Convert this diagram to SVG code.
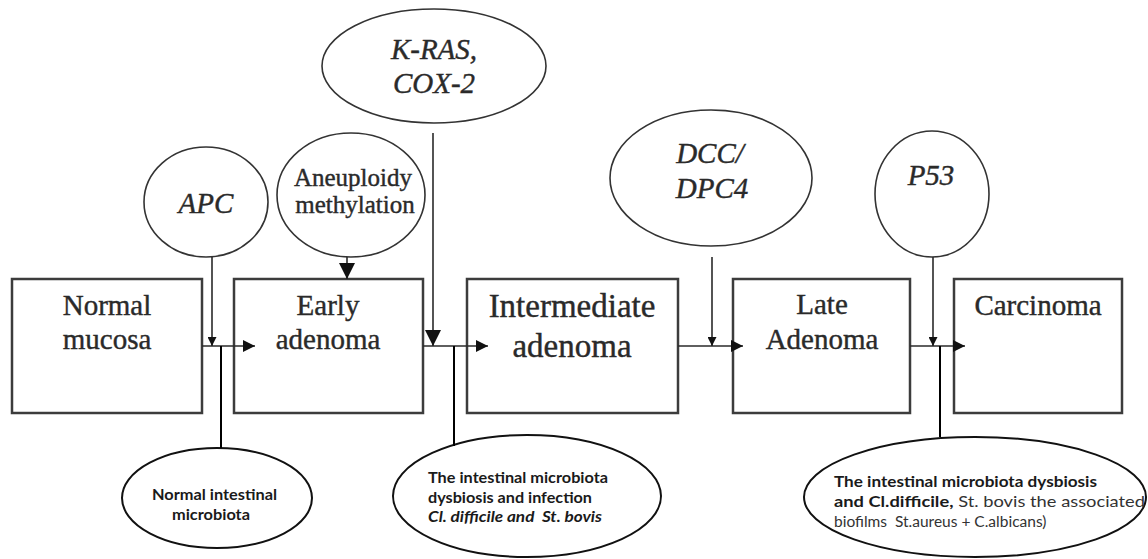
<svg xmlns="http://www.w3.org/2000/svg" width="1148" height="559" viewBox="0 0 1148 559">
<style>
.box{fill:#fff;stroke:#3c3c3c;stroke-width:2.5}
.oval{fill:#fff;stroke:#333;stroke-width:1.6}
.bov{fill:#fff;stroke:#111;stroke-width:2}
.bt{font-family:"Liberation Serif",serif;font-size:29px;fill:#2a2a2a;stroke:#2a2a2a;stroke-width:0.4;text-anchor:middle}
.gt{font-family:"Liberation Serif",serif;font-size:29px;font-style:italic;fill:#2a2a2a;stroke:#2a2a2a;stroke-width:0.4;text-anchor:middle}
.mt{font-family:Lato,"Liberation Sans",sans-serif;font-size:16px;font-weight:bold;fill:#1a1a1a}
.rg{font-weight:normal;fill:#333}
.ln{stroke:#2a2a2a;stroke-width:1.6;fill:none}
.bl{stroke:#000;stroke-width:2;fill:none}
</style>
<defs>
<marker id="ah" markerUnits="userSpaceOnUse" markerWidth="12" markerHeight="12" viewBox="0 0 10 10" refX="10" refY="5" orient="auto"><path d="M0,0 L10,5 L0,10 z" fill="#111"/></marker>
<marker id="ahs" markerUnits="userSpaceOnUse" markerWidth="9" markerHeight="9" viewBox="0 0 10 10" refX="10" refY="5" orient="auto"><path d="M0,0 L10,5 L0,10 z" fill="#111"/></marker>
<marker id="ahl" markerUnits="userSpaceOnUse" markerWidth="16" markerHeight="16" viewBox="0 0 10 10" refX="10" refY="5" orient="auto"><path d="M0,0 L10,5 L0,10 z" fill="#111"/></marker>
</defs>
<rect width="1148" height="559" fill="#fff"/>
<g id="normal-mucosa"><rect class="box" x="12" y="279" width="190" height="134"/><text class="bt" x="107" y="315">Normal</text><text class="bt" x="107" y="349">mucosa</text></g>
<g id="early-adenoma"><rect class="box" x="234" y="279" width="189" height="134"/><text class="bt" x="328" y="315">Early</text><text class="bt" x="328" y="349">adenoma</text></g>
<g id="intermediate-adenoma"><rect class="box" x="467" y="279" width="211" height="134"/><text class="bt" x="572" y="317" style="font-size:33px">Intermediate</text><text class="bt" x="572" y="357" style="font-size:33px">adenoma</text></g>
<g id="late-adenoma"><rect class="box" x="733" y="279" width="177" height="134"/><text class="bt" x="822" y="314">Late</text><text class="bt" x="822" y="349">Adenoma</text></g>
<g id="carcinoma"><rect class="box" x="954" y="279" width="168" height="134"/><text class="bt" x="1038" y="315">Carcinoma</text></g>
<g id="apc"><ellipse class="oval" cx="206" cy="202" rx="62" ry="55"/><text class="gt" x="206" y="213">APC</text></g>
<g id="aneuploidy"><ellipse class="oval" cx="351" cy="195" rx="74" ry="62"/><text class="bt" x="353" y="186" style="font-size:25px">Aneuploidy</text><text class="bt" x="355" y="213" style="font-size:25px">methylation</text></g>
<g id="kras"><ellipse class="oval" cx="434" cy="66" rx="112" ry="57"/><text class="gt" x="434" y="59">K-RAS,</text><text class="gt" x="434" y="93">COX-2</text></g>
<g id="dcc"><ellipse class="oval" cx="711" cy="178" rx="101" ry="68"/><text class="gt" x="710" y="163">DCC/</text><text class="gt" x="712" y="198">DPC4</text></g>
<g id="p53"><ellipse class="oval" cx="932" cy="194" rx="57" ry="63"/><text class="gt" x="931" y="185">P53</text></g>
<g id="normal-microbiota"><ellipse class="bov" cx="217" cy="498" rx="95" ry="50"/><text class="mt" x="152" y="500" textLength="125" lengthAdjust="spacingAndGlyphs">Normal intestinal</text><text class="mt" x="172" y="520" textLength="78" lengthAdjust="spacingAndGlyphs">microbiota</text></g>
<g id="dysbiosis-infection"><ellipse class="bov" cx="527" cy="496" rx="134" ry="61"/><text class="mt" x="428" y="483" textLength="180" lengthAdjust="spacingAndGlyphs">The intestinal microbiota</text><text class="mt" x="428" y="503" textLength="164" lengthAdjust="spacingAndGlyphs">dysbiosis and infection</text><text class="mt" x="428" y="522" font-style="italic" textLength="174" lengthAdjust="spacingAndGlyphs" xml:space="preserve">Cl. difficile and  St. bovis</text></g>
<g id="dysbiosis-biofilms"><ellipse class="bov" cx="975" cy="497" rx="171" ry="60"/><text class="mt" x="834" y="487" textLength="263" lengthAdjust="spacingAndGlyphs">The intestinal microbiota dysbiosis</text><text class="mt" x="834" y="507" textLength="311" lengthAdjust="spacingAndGlyphs">and Cl.difficile,<tspan class="rg"> St. bovis the associated</tspan></text><text class="mt rg" x="834" y="527" style="font-size:15.5px" xml:space="preserve">biofilms  St.aureus + C.albicans)</text></g>
<g id="connectors">
<line class="ln" x1="202" y1="346" x2="255" y2="346" marker-end="url(#ah)"/>
<line class="ln" x1="423" y1="346" x2="488" y2="346" marker-end="url(#ah)"/>
<line class="ln" x1="678" y1="346" x2="743" y2="346" marker-end="url(#ah)"/>
<line class="ln" x1="910" y1="346" x2="965" y2="346" marker-end="url(#ah)"/>
<line class="ln" x1="212" y1="257" x2="212" y2="346" marker-end="url(#ahs)"/>
<line class="ln" x1="347" y1="257" x2="347" y2="279" marker-end="url(#ahl)"/>
<line class="ln" x1="433" y1="133" x2="433" y2="346" marker-end="url(#ahl)"/>
<line class="ln" x1="712" y1="257" x2="712" y2="346" marker-end="url(#ahs)"/>
<line class="ln" x1="933" y1="257" x2="933" y2="346" marker-end="url(#ahs)"/>
<line class="bl" x1="221" y1="346" x2="221" y2="448"/>
<line class="bl" x1="454" y1="346" x2="454" y2="446"/>
<line class="bl" x1="940" y1="346" x2="940" y2="437"/>
</g>
</svg>
